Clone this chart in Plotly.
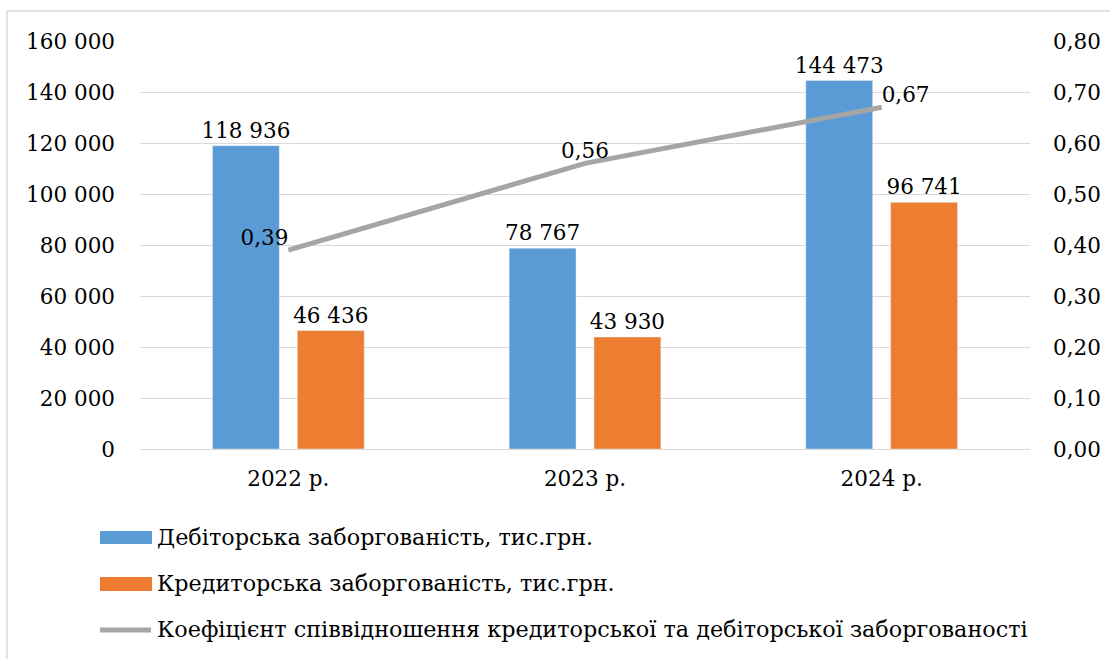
import plotly.graph_objects as go

# Data
years = ["2022 р.", "2023 р.", "2024 р."]
receivables = [118936, 78767, 144473]
payables = [46436, 43930, 96741]
ratio = [0.39, 0.56, 0.67]

names = [
    "Дебіторська заборгованість, тис.грн.",
    "Кредиторська заборгованість, тис.грн.",
    "Коефіцієнт співвідношення кредиторської та дебіторської заборгованості",
]

BLUE = "#5B9BD5"
ORANGE = "#ED7D31"
GRAY = "#A5A5A5"
GRID = "#D9D9D9"
FONT = "DejaVu Serif"
FS = 21.5
FS_LEGEND = 22.3

W, H = 1110, 659
L, R, T, B = 140, 80, 41, 210
PW, PH = W - L - R, H - T - B


def px(x):
    return (x - L) / PW


def py(y):
    return (H - B - y) / PH


fig = go.Figure()

fig.add_trace(go.Bar(
    x=years, y=receivables, name=names[0], marker_color=BLUE,
    texttemplate="%{y:,}", textposition="outside", constraintext="none",
    textfont=dict(family=FONT, size=FS, color="black"),
    cliponaxis=False, showlegend=False,
))
fig.add_trace(go.Bar(
    x=years, y=payables, name=names[1], marker_color=ORANGE,
    texttemplate="%{y:,}", textposition="outside", constraintext="none",
    textfont=dict(family=FONT, size=FS, color="black"),
    cliponaxis=False, showlegend=False,
))
fig.add_trace(go.Scatter(
    x=years, y=ratio, name=names[2], yaxis="y2", mode="lines+text",
    line=dict(color=GRAY, width=5),
    texttemplate="%{y:.2f}",
    textposition=["top left", "top center", "top right"],
    textfont=dict(family=FONT, size=FS, color="black"),
    cliponaxis=False, showlegend=False,
))

shapes = [
    # outer frame
    dict(type="rect", xref="paper", yref="paper",
         x0=px(7), x1=px(1125), y0=py(680), y1=py(11),
         line=dict(color=GRID, width=1.5), fillcolor="rgba(0,0,0,0)", layer="below"),
    # legend swatches
    dict(type="rect", xref="paper", yref="paper",
         x0=px(100), x1=px(152), y0=py(544), y1=py(531),
         line=dict(width=0), fillcolor=BLUE),
    dict(type="rect", xref="paper", yref="paper",
         x0=px(100), x1=px(152), y0=py(591), y1=py(577),
         line=dict(width=0), fillcolor=ORANGE),
    dict(type="line", xref="paper", yref="paper",
         x0=px(100), x1=px(151), y0=py(630), y1=py(630),
         line=dict(color=GRAY, width=5)),
]

annotations = []
for name, yc in zip(names, [537, 583, 629]):
    annotations.append(dict(
        text=name, xref="paper", yref="paper", x=px(155), y=py(yc),
        xanchor="left", yanchor="middle", showarrow=False,
        font=dict(family=FONT, size=FS_LEGEND, color="black"),
    ))

fig.update_layout(
    width=W, height=H,
    margin=dict(l=L, r=R, t=T, b=B),
    paper_bgcolor="white", plot_bgcolor="white",
    separators=", ",
    barmode="group", bargap=0.428, bargroupgap=0.212,
    font=dict(family=FONT, size=FS, color="black"),
    xaxis=dict(showgrid=False, showline=False, ticks="", automargin=False,
               tickfont=dict(family=FONT, size=FS, color="black"),
               ticklabelstandoff=14),
    yaxis=dict(range=[0, 160000], dtick=20000, tickformat=",d",
               showgrid=True, gridcolor=GRID, gridwidth=1.3,
               zeroline=True, zerolinecolor=GRID, zerolinewidth=1.3,
               showline=False, ticks="", ticklabelstandoff=24, automargin=False,
               tickfont=dict(family=FONT, size=FS, color="black")),
    yaxis2=dict(range=[0, 0.8], dtick=0.1, tickformat=".2f",
                overlaying="y", side="right", showgrid=False,
                zeroline=False, showline=False, ticks="", automargin=False,
                ticklabelstandoff=22,
                tickfont=dict(family=FONT, size=FS, color="black")),
    shapes=shapes,
    annotations=annotations,
)

fig.write_html("out.html")
